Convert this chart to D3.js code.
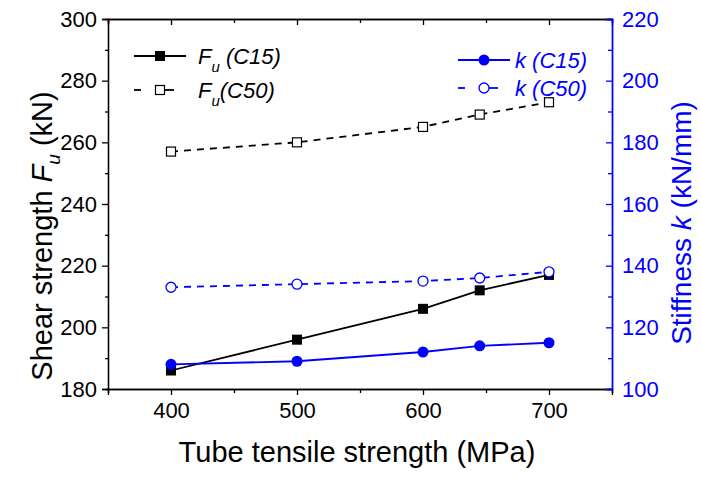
<!DOCTYPE html>
<html>
<head>
<meta charset="utf-8">
<script src="https://cdn.jsdelivr.net/npm/d3@7"></script>
<style>
    body { margin: 0; background: #fff; }
    text { font-family: "Liberation Sans", Arial, sans-serif; }
</style>
</head>
<body>
<script>
(function(){

    //data
    var tensile = [400, 500, 600, 645, 700];
    var fuC15 = [186, 196, 206, 212, 217];
    var fuC50 = [257, 260, 265, 269, 273];
    var kC15 = [108, 109, 112, 114, 115];
    var kC50 = [133, 134, 135, 136, 138];

    var xTicks = [400, 500, 600, 700];
    var xMinor = [350, 450, 550, 650, 750];
    var leftTicks = [180, 200, 220, 240, 260, 280, 300];
    var rightTicks = [100, 120, 140, 160, 180, 200, 220];

    var blue = "#0000ff";
    var width = 701, height = 478;
    var margin = {left: 108, right: 89, top: 19, bottom: 89};
    var plotW = width - margin.left - margin.right,
        plotH = height - margin.top - margin.bottom;

    var svg = d3.select("body")
        .append("svg")
        .attr("width", width)
        .attr("height", height);

    var g = svg.append("g")
        .attr("transform", "translate(" + margin.left + "," + margin.top + ")");

    //scales
    var x = d3.scaleLinear().domain([350, 750]).range([0, plotW]);
    var yL = d3.scaleLinear().domain([180, 300]).range([plotH, 0]);
    var yR = d3.scaleLinear().domain([100, 220]).range([plotH, 0]);

    //axis styling helper
    function styleAxis(sel, color, size) {
        sel.select(".domain").attr("stroke", color).attr("stroke-width", 1.3);
        sel.selectAll(".tick line").attr("stroke", color).attr("stroke-width", 1.3);
        sel.selectAll(".tick text")
            .attr("fill", color)
            .style("font-size", size + "px")
            .style("font-family", "'Liberation Sans', Arial, sans-serif");
    }

    //minor ticks first
    g.append("g").attr("transform", "translate(0," + plotH + ")")
        .call(d3.axisBottom(x).tickValues(xMinor).tickSize(4).tickFormat(""))
        .call(styleAxis, "#000", 22);
    g.append("g")
        .call(d3.axisBottom(x).tickValues(xMinor).tickSize(4).tickFormat(""))
        .call(styleAxis, "#000", 22);
    g.append("g")
        .call(d3.axisLeft(yL).tickValues(d3.range(190, 300, 20)).tickSize(3).tickFormat(""))
        .call(styleAxis, "#000", 22);
    g.append("g").attr("transform", "translate(" + plotW + ",0)")
        .call(d3.axisLeft(yR).tickValues(d3.range(110, 220, 20)).tickSize(4).tickFormat(""))
        .call(styleAxis, blue, 22);

    //major ticks
    g.append("g")
        .attr("transform", "translate(0," + plotH + ")")
        .call(d3.axisBottom(x).tickValues(xTicks).tickSize(6).tickPadding(7))
        .call(styleAxis, "#000", 22);

    g.append("g")
        .call(d3.axisBottom(x).tickValues(xTicks).tickSize(6).tickFormat(""))
        .call(styleAxis, "#000", 22);

    g.append("g")
        .call(d3.axisLeft(yL).tickValues(leftTicks).tickSize(6).tickPadding(5))
        .call(styleAxis, "#000", 22);

    g.append("g")
        .attr("transform", "translate(" + plotW + ",0)")
        .call(d3.axisRight(yR).tickValues(rightTicks).tickSize(0).tickPadding(10))
        .call(styleAxis, blue, 22);
    g.append("g")
        .attr("transform", "translate(" + plotW + ",0)")
        .call(d3.axisLeft(yR).tickValues(rightTicks).tickSize(6).tickFormat(""))
        .call(styleAxis, blue, 22);

    //series lines
    var series = [
        {vals: fuC15, scale: yL, color: "#000", dash: null, shape: "square", fill: true},
        {vals: fuC50, scale: yL, color: "#000", dash: "7,6", shape: "square", fill: false},
        {vals: kC15, scale: yR, color: blue, dash: null, shape: "circle", fill: true},
        {vals: kC50, scale: yR, color: blue, dash: "7,6", shape: "circle", fill: false}
    ];

    series.forEach(function(s) {
        var line = d3.line()
            .x(function(d, i) { return x(tensile[i]); })
            .y(function(d) { return s.scale(d); });

        g.append("path")
            .datum(s.vals)
            .attr("d", line)
            .attr("fill", "none")
            .attr("stroke", s.color)
            .attr("stroke-width", 1.8)
            .attr("stroke-dasharray", s.dash);

        drawMarkers(g, s, s.vals.map(function(d, i) { return [x(tensile[i]), s.scale(d)]; }));
    });

    function drawMarkers(parent, s, pts) {
        pts.forEach(function(p) {
            if (s.shape == "square") {
                var sz = s.fill ? 10 : 9;
                parent.append("rect")
                    .attr("x", p[0] - sz / 2)
                    .attr("y", p[1] - sz / 2)
                    .attr("width", sz)
                    .attr("height", sz)
                    .attr("fill", s.fill ? s.color : "#fff")
                    .attr("stroke", s.color)
                    .attr("stroke-width", s.fill ? 0 : 1.2);
            } else {
                parent.append("circle")
                    .attr("cx", p[0])
                    .attr("cy", p[1])
                    .attr("r", s.fill ? 5.5 : 5)
                    .attr("fill", s.fill ? s.color : "#fff")
                    .attr("stroke", s.color)
                    .attr("stroke-width", s.fill ? 0 : 1.3);
            }
        });
    }

    //legends
    var legendRows = [
        {s: series[0], x0: 134, x1: 186, y: 56, tx: 198, label: "F", sub: "u", rest: " (C15)"},
        {s: series[1], x0: 134, x1: 186, y: 90, tx: 198, label: "F", sub: "u", rest: "(C50)"},
        {s: series[2], x0: 458, x1: 510, y: 60, tx: 515, label: "k (C15)", sub: "", rest: ""},
        {s: series[3], x0: 458, x1: 510, y: 88, tx: 515, label: "k (C50)", sub: "", rest: ""}
    ];

    legendRows.forEach(function(r) {
        var mid = (r.x0 + r.x1) / 2;
        if (r.s.dash) {
            svg.append("line").attr("x1", r.x0).attr("x2", r.x0 + 7)
                .attr("y1", r.y).attr("y2", r.y)
                .attr("stroke", r.s.color).attr("stroke-width", 1.8);
            svg.append("line").attr("x1", mid + 4).attr("x2", mid + 14)
                .attr("y1", r.y).attr("y2", r.y)
                .attr("stroke", r.s.color).attr("stroke-width", 1.8);
        } else {
            svg.append("line").attr("x1", r.x0).attr("x2", r.x1)
                .attr("y1", r.y).attr("y2", r.y)
                .attr("stroke", r.s.color).attr("stroke-width", 1.8);
        }
        drawMarkers(svg, r.s, [[mid, r.y]]);

        var t = svg.append("text")
            .attr("x", r.tx)
            .attr("y", r.y + 8)
            .attr("fill", r.s.color)
            .style("font-size", "22px")
            .style("font-style", "italic");
        t.append("tspan").text(r.label);
        if (r.sub) {
            t.append("tspan").attr("dy", 8).style("font-size", "15px").text(r.sub);
            t.append("tspan").attr("dy", -8).text(r.rest);
        }
    });

    //axis titles
    svg.append("text")
        .attr("x", margin.left + plotW / 2 - 3)
        .attr("y", 462)
        .attr("text-anchor", "middle")
        .style("font-size", "29px")
        .text("Tube tensile strength (MPa)");

    var leftTitle = svg.append("text")
        .attr("transform", "translate(52,236) rotate(-90)")
        .attr("text-anchor", "middle")
        .style("font-size", "29px");
    leftTitle.append("tspan").text("Shear strength ");
    leftTitle.append("tspan").style("font-style", "italic").text("F");
    leftTitle.append("tspan").attr("dy", 8).style("font-size", "19px").style("font-style", "italic").text("u");
    leftTitle.append("tspan").attr("dy", -8).text(" (kN)");

    var rightTitle = svg.append("text")
        .attr("transform", "translate(691,223) rotate(-90)")
        .attr("text-anchor", "middle")
        .attr("fill", blue)
        .style("font-size", "28px");
    rightTitle.append("tspan").text("Stiffness ");
    rightTitle.append("tspan").style("font-style", "italic").text("k");
    rightTitle.append("tspan").text(" (kN/mm)");

})();
</script>
</body>
</html>
